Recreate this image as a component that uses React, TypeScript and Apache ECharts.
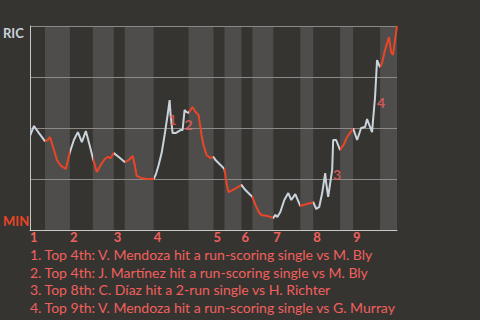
import React, { useEffect, useRef } from 'react';
import * as echarts from 'echarts';

// Half-inning structure, in play-sequence units
const innings = ['1', '2', '3', '4', '5', '6', '7', '8', '9'];
const inningStart = [0, 40, 84, 124, 184, 212, 244, 284, 324];
const bottomStart = [15, 63, 95, 159, 195, 223, 271, 311, 351];
const gameEnd = 368;

// RIC win probability (%) through the game: [play, probability]
const winProb: [number, number][] = [
  [0, 46.1], [4, 51.0], [9, 47.5], [15, 43.6],
  [18, 44.1], [20, 45.6], [24, 39.2], [27, 34.3], [31, 31.4], [36, 29.9], [40, 38.2],
  [44, 44.1], [48, 48.0], [52, 43.1], [56, 48.5], [60, 41.2], [63, 35.3],
  [67, 28.4], [71, 31.9], [75, 34.8], [78, 35.8], [81, 35.3], [84, 37.7],
  [89, 35.8], [95, 33.3],
  [99, 34.3], [103, 36.3], [105, 31.9], [107, 26.5], [111, 25.5], [117, 25.0], [124, 25.0],
  [126, 27.0], [129, 31.9], [132, 37.7], [135, 46.6], [138, 56.4], [140, 63.7], [141, 56.4],
  [143, 47.5], [146, 47.5], [151, 49.0], [153, 49.0], [155, 58.8], [157, 57.8], [159, 57.4],
  [163, 60.3], [166, 57.8], [169, 56.4], [172, 46.6], [174, 41.7], [177, 36.8], [181, 35.3], [184, 35.8],
  [186, 34.3], [191, 31.9], [195, 29.9],
  [197, 23.0], [199, 18.6], [203, 19.6], [209, 21.1], [212, 22.1],
  [216, 19.6], [221, 17.2], [223, 16.2],
  [226, 12.3], [230, 8.3], [232, 7.4], [238, 6.9], [244, 5.9],
  [246, 7.4], [248, 6.4], [251, 8.8], [255, 14.7], [259, 18.1], [262, 14.7], [266, 17.6], [271, 11.8],
  [277, 12.7], [282, 13.2], [284, 13.7],
  [287, 10.3], [290, 11.3], [293, 18.1], [296, 27.9], [297, 23.0], [299, 16.2], [301, 23.0],
  [303, 29.4], [304, 44.1], [307, 44.1], [311, 39.2],
  [315, 42.2], [318, 45.6], [323, 49.0], [324, 49.8],
  [328, 44.1], [332, 50.0], [336, 50.5], [338, 54.4], [341, 50.5], [343, 48.0], [344, 53.9],
  [346, 65.2], [348, 83.3], [350, 80.9], [351, 79.9],
  [353, 81.9], [356, 88.2], [360, 94.6], [362, 87.3], [364, 85.8], [367, 96.6], [368, 100],
];

// Team labels on the probability axis
const teamNames = ['MIN', 'RIC'];
const teamTickValues = [4.4, 96.6];

// Numbered scoring-play markers: [play, probability]
const noteMarks = ['1', '2', '3', '4'];
const notePoints: [number, number][] = [[143, 54.4], [159, 51.5], [308, 27.0], [352, 62.3]];

const notes = [
  '1. Top 4th: V. Mendoza hit a run-scoring single vs M. Bly',
  '2. Top 4th: J. Martínez hit a run-scoring single vs M. Bly',
  '3. Top 8th: C. Díaz hit a 2-run single vs H. Richter',
  '4. Top 9th: V. Mendoza hit a run-scoring single vs G. Murray',
];

const BG = '#363431';
const BAND = '#4e4d4b';
const LIGHT = '#c9d3db';
const RED = '#ea4526';
const SALMON = '#f1605c';
const FONT = 'Lato, "Noto Sans", sans-serif';

export default function App() {
  const ref = useRef<HTMLDivElement>(null);

  useEffect(() => {
    if (!ref.current) return;
    const chart = echarts.init(ref.current, undefined, { renderer: 'svg' });

    const pieces: any[] = [];
    innings.forEach((_, i) => {
      const end = i + 1 < inningStart.length ? inningStart[i + 1] : gameEnd + 1;
      pieces.push({ gte: inningStart[i], lt: bottomStart[i], color: LIGHT });
      pieces.push({ gte: bottomStart[i], lt: end, color: RED });
    });

    const bands = innings.map((_, i) => {
      const end = i + 1 < inningStart.length ? inningStart[i + 1] : gameEnd;
      return [{ xAxis: bottomStart[i] }, { xAxis: end }];
    });

    chart.setOption({
      animation: false,
      backgroundColor: BG,
      grid: { left: 29, right: 83, top: 26, bottom: 90 },
      xAxis: {
        type: 'value',
        min: 0,
        max: gameEnd,
        z: 3,
        axisLine: { show: true, lineStyle: { color: '#c8c8c6', width: 1 } },
        axisTick: { show: false },
        splitLine: { show: false },
        axisLabel: {
          customValues: inningStart,
          formatter: (v: number) => innings[inningStart.indexOf(v)] ?? '',
          align: 'left',
          margin: 0,
          lineHeight: 13,
          color: SALMON,
          fontWeight: 'bold',
          fontSize: 13,
          fontFamily: FONT,
        },
      },
      yAxis: {
        type: 'value',
        min: 0,
        max: 100,
        interval: 25,
        z: 3,
        axisLine: { show: true, lineStyle: { color: '#c8c8c6', width: 1 } },
        axisTick: { show: false },
        splitLine: { show: true, lineStyle: { color: '#8b8a88', width: 1 } },
        axisLabel: {
          customValues: teamTickValues,
          formatter: (v: number) => {
            const i = teamTickValues.indexOf(v);
            return i === 0 ? `{min|${teamNames[0]}}` : `{ric|${teamNames[1]}}`;
          },
          align: 'left',
          margin: 27,
          rich: {
            min: { color: RED, fontWeight: 'bold', fontSize: 13, fontFamily: FONT },
            ric: { color: LIGHT, fontWeight: 'bold', fontSize: 13, fontFamily: FONT },
          },
        },
      },
      visualMap: {
        show: false,
        type: 'piecewise',
        dimension: 0,
        seriesIndex: 1,
        pieces,
      },
      series: [
        {
          type: 'line',
          data: [],
          z: 1,
          silent: true,
          markArea: {
            silent: true,
            itemStyle: { color: BAND },
            data: bands,
          },
        },
        {
          type: 'line',
          z: 5,
          data: winProb,
          showSymbol: false,
          symbol: 'none',
          lineStyle: { width: 2 },
        },
        {
          type: 'scatter',
          z: 6,
          data: notePoints,
          symbolSize: 1,
          itemStyle: { color: 'transparent' },
          label: {
            show: true,
            position: 'inside',
            formatter: (p: any) => noteMarks[p.dataIndex],
            color: SALMON,
            fontWeight: 'bold',
            fontSize: 14,
            fontFamily: FONT,
          },
        },
      ],
      graphic: notes.map((t, i) => ({
        type: 'text',
        left: 30,
        top: 247 + i * 17.7,
        style: {
          text: t,
          fill: SALMON,
          fontSize: 14,
          lineHeight: 15,
          fontFamily: FONT,
        },
      })),
    });

    return () => chart.dispose();
  }, []);

  return (
    <div
      ref={ref}
      style={{ position: 'absolute', left: 0, top: 0, width: 480, height: 320 }}
    />
  );
}
